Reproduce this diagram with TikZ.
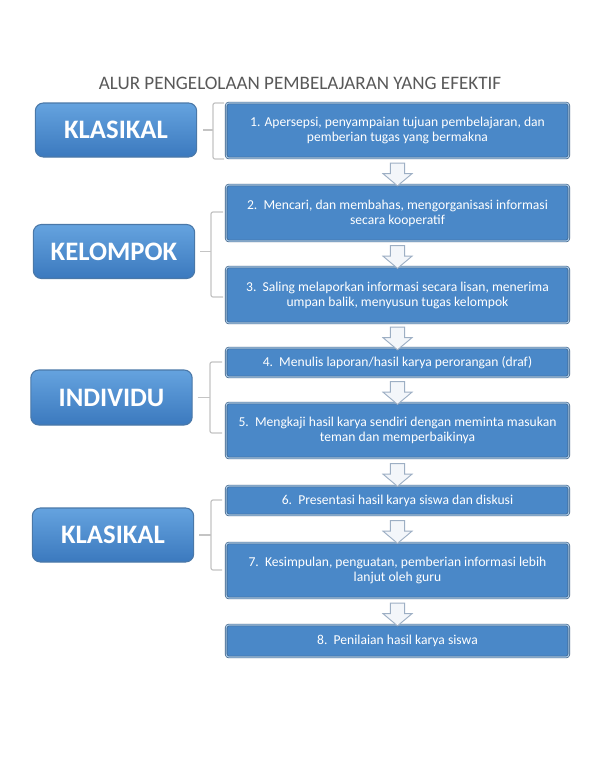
\documentclass[tikz,border=0pt]{standalone}
\usepackage{fontspec}
\setmainfont{Carlito}
\usetikzlibrary{shapes.arrows}
\definecolor{boxblue}{HTML}{4A88C8}
\definecolor{boxedge}{HTML}{3D5F82}
\definecolor{boxlight}{HTML}{A9CBEB}
\definecolor{lefttop}{HTML}{65A3DF}
\definecolor{leftbot}{HTML}{3B79BE}
\definecolor{leftedge}{HTML}{4A78A8}
\definecolor{arrowfill}{HTML}{F3F6FA}
\definecolor{arrowedge}{HTML}{9DAFC4}
\definecolor{bracegray}{HTML}{C4C4C4}
\definecolor{titlegray}{HTML}{595959}
\begin{document}
\begin{tikzpicture}[x=0.75pt,y=-0.75pt,
    langkah/.style={draw=boxedge,double=boxlight,double distance=0.8pt,line width=0.5pt,fill=boxblue,rounded corners=2pt,minimum width=257pt,text=white,align=center,font=\fontsize{10.2}{11.25}\selectfont,inner sep=0pt},
    kelas/.style={draw=leftedge,line width=0.8pt,top color=lefttop,bottom color=leftbot,rounded corners=6pt,minimum width=121pt,minimum height=40.5pt,text=white,font=\fontsize{20}{24}\selectfont\bfseries},
    panah/.style={single arrow,draw=arrowedge,fill=arrowfill,line width=0.7pt,minimum height=17pt,minimum width=21pt,single arrow head extend=5.5pt,single arrow tip angle=100,inner xsep=0pt,inner ysep=5pt,rotate=-90},
    kurung/.style={draw=bracegray,line width=0.9pt,rounded corners=1.5pt}]
  \useasboundingbox[fill=white] (0,0) rectangle (600,776);
  \node[text=titlegray,font=\fontsize{14.3}{17}\selectfont] (judul) at (300,83) {ALUR PENGELOLAAN PEMBELAJARAN YANG EFEKTIF};
  \node[langkah,minimum height=41.25pt] (s1) at (397.5,130.5) {1. Apersepsi, penyampaian tujuan pembelajaran, dan\\pemberian tugas yang bermakna};
  \node[langkah,minimum height=42pt] (s2) at (397.5,213) {2.\ \ Mencari, dan membahas, mengorganisasi informasi\\secara kooperatif};
  \node[langkah,minimum height=42pt] (s3) at (397.5,295) {3.\ \ Saling melaporkan informasi secara lisan, menerima\\umpan balik, menyusun tugas kelompok};
  \node[langkah,minimum height=21.75pt] (s4) at (397.5,362.5) {4.\ \ Menulis laporan/hasil karya perorangan (draf)};
  \node[langkah,minimum height=41.25pt] (s5) at (397.5,430.5) {5.\ \ Mengkaji hasil karya sendiri dengan meminta masukan\\teman dan memperbaikinya};
  \node[langkah,minimum height=21.75pt] (s6) at (397.5,500.5) {6.\ \ Presentasi hasil karya siswa dan diskusi};
  \node[langkah,minimum height=41.25pt] (s7) at (397.5,570.5) {7.\ \ Kesimpulan, penguatan, pemberian informasi lebih\\lanjut oleh guru};
  \node[langkah,minimum height=24pt] (s8) at (397.5,641) {8.\ \ Penilaian hasil karya siswa};
  \foreach \a/\b in {1/2,2/3,3/4,4/5,5/6,6/7,7/8}
    \path (s\a.south) -- (s\b.north) node[midway,panah]{};
  \node[kelas] (k1) at (116,130) {KLASIKAL};
  \node[kelas] (k2) at (114,251.5) {KELOMPOK};
  \node[kelas,minimum height=41.25pt] (k3) at (111.5,397.5) {INDIVIDU};
  \node[kelas] (k4) at (113,535) {KLASIKAL};
  \draw[kurung] (224,103) -| (213,159) -- (224,159);
  \draw[kurung] (k1.east) ++(6,0) -- (213,130);
  \draw[kurung] (223,212) -| (211,297) -- (223,297);
  \draw[kurung] (k2.east) ++(5,0) -- (211,251.5);
  \draw[kurung] (222,362) -| (210,433) -- (222,433);
  \draw[kurung] (k3.east) ++(5,0) -- (210,397.5);
  \draw[kurung] (222,500) -| (211,570) -- (222,570);
  \draw[kurung] (k4.east) ++(5,0) -- (211,535);
\end{tikzpicture}
\end{document}
